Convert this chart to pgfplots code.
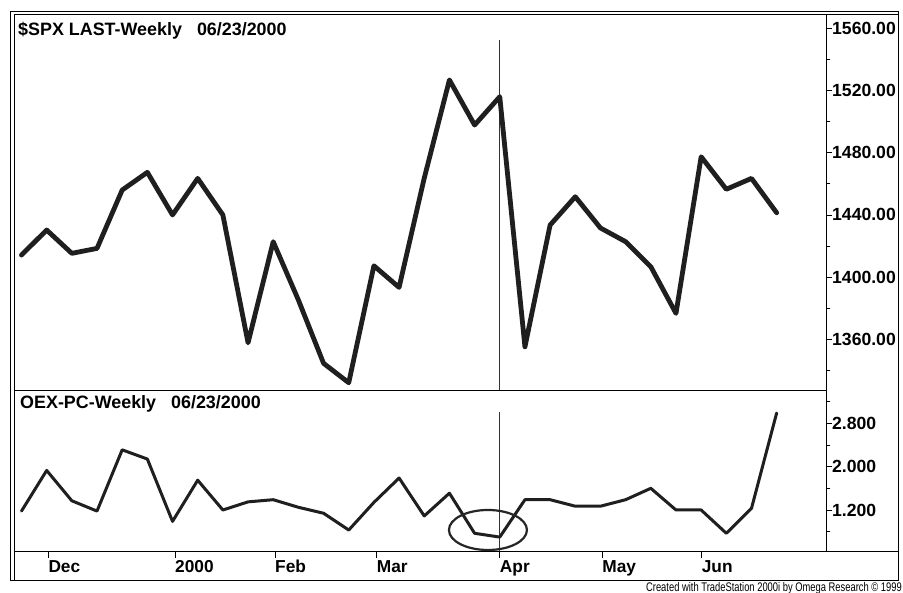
\documentclass[border=0pt]{standalone}
\usepackage{fontspec}
\setmainfont{Liberation Sans}
\usepackage{graphicx}
\usepackage{pgfplots}
\pgfplotsset{compat=1.18}
\usepackage{pgfplotstable}

\pgfplotstableread{
i v
0 1414.2
1 1430.3
2 1415.3
3 1418.5
4 1456.0
5 1467.4
6 1440.0
7 1463.5
8 1440.0
9 1357.8
10 1422.8
11 1385.3
12 1344.6
13 1332.1
14 1407.3
15 1393.4
16 1463.7
17 1526.8
18 1497.8
19 1516.0
20 1355.2
21 1433.5
22 1451.7
23 1431.6
24 1422.8
25 1406.7
26 1376.7
27 1477.4
28 1456.5
29 1463.5
30 1441.4
}\spx

\pgfplotstableread{
i v
0 1.18
1 1.93
2 1.37
3 1.18
4 2.31
5 2.14
6 0.99
7 1.75
8 1.20
9 1.35
10 1.39
11 1.25
12 1.14
13 0.83
14 1.34
15 1.79
16 1.09
17 1.51
18 0.77
19 0.70
20 1.39
21 1.39
22 1.27
23 1.27
24 1.39
25 1.60
26 1.20
27 1.20
28 0.77
29 1.23
30 2.99
}\oex

\newcommand{\tfont}{\fontsize{17.9}{20}\selectfont\bfseries}

\begin{document}
\begin{tikzpicture}[x=1pt,y=1pt]
\fill[white] (0,0) rectangle (903,593);

\pgfplotsset{
  panel/.style={
    scale only axis, width=811pt,
    xmin=-0.258, xmax=31.96,
    axis line style={draw=none},
    tick align=outside,
    major tick length=6pt, minor tick length=4pt,
    ytick pos=right, yticklabel pos=right,
    every tick/.style={black, line width=0.8pt},
    yticklabel style={font=\fontsize{17.6}{20}\selectfont\bfseries, anchor=west, inner sep=0pt},
    /pgf/number format/assume math mode=true,
  }
}

\begin{axis}[panel, at={(15pt,202pt)}, anchor=south west, height=377pt,
  ymin=1326.8, ymax=1569.2,
  xtick=\empty,
  ytick={1360,1400,...,1560},
  minor ytick={1340,1380,...,1540},
  yticklabel={\pgfmathprintnumber[fixed,fixed zerofill,precision=2,1000 sep={}]{\tick}},
]
\draw[line width=0.8pt, black!80] (axis cs:19,1552.5) -- (axis cs:19,1326.8);
\addplot[line width=4.8pt, color=black!88, line join=round, line cap=round] table[x=i,y=v]{\spx};
\end{axis}

\begin{axis}[panel, at={(15pt,41pt)}, anchor=south west, height=161pt,
  ymin=0.425, ymax=3.396,
  ytick={1.2,2.0,2.8},
  minor ytick={0.8,1.6,2.4,3.2},
  yticklabel={\pgfmathprintnumber[fixed,fixed zerofill,precision=3]{\tick}},
  xtick={1.065,6.10,10.07,14.11,19,23.07,27.02},
  xticklabels={Dec,2000,Feb,Mar,Apr,May,Jun},
  xtick pos=left,
  xticklabel style={font=\fontsize{17.3}{20}\selectfont\bfseries, anchor=north west, inner sep=0pt, yshift=-2pt},
]
\draw[line width=0.8pt, black!80] (axis cs:19,3.01) -- (axis cs:19,0.425);
\addplot[line width=3pt, color=black!88, line join=round, line cap=round] table[x=i,y=v]{\oex};
\draw[line width=2.2pt, black!85] (axis cs:18.53,0.831) ellipse [x radius=39pt, y radius=20pt];
\end{axis}

% frame
\draw[line width=1pt] (10.5,581.5) -- (898,581.5) -- (898,12) -- (10.5,12) -- cycle;
\draw[line width=1pt] (14,12) -- (14,578) -- (898,578);
\draw[line width=1pt] (14,202) -- (826,202);
\draw[line width=1pt] (14,41) -- (898,41);
\draw[line width=1pt] (826,578) -- (826,41);

\node[anchor=west, inner sep=0pt, font=\tfont] at (18,562) {\$SPX LAST-Weekly\hspace{15pt}06/23/2000};
\node[anchor=west, inner sep=0pt, font=\tfont] at (20,189) {OEX-PC-Weekly\hspace{15pt}06/23/2000};
\node[anchor=east, inner sep=0pt] at (902,5) {\scalebox{0.75}[1]{\fontsize{12.5}{14}\selectfont Created with TradeStation 2000i by Omega Research \textcopyright\ 1999}};
\pgfresetboundingbox
\useasboundingbox (0,0) rectangle (903,593);
\end{tikzpicture}
\end{document}
